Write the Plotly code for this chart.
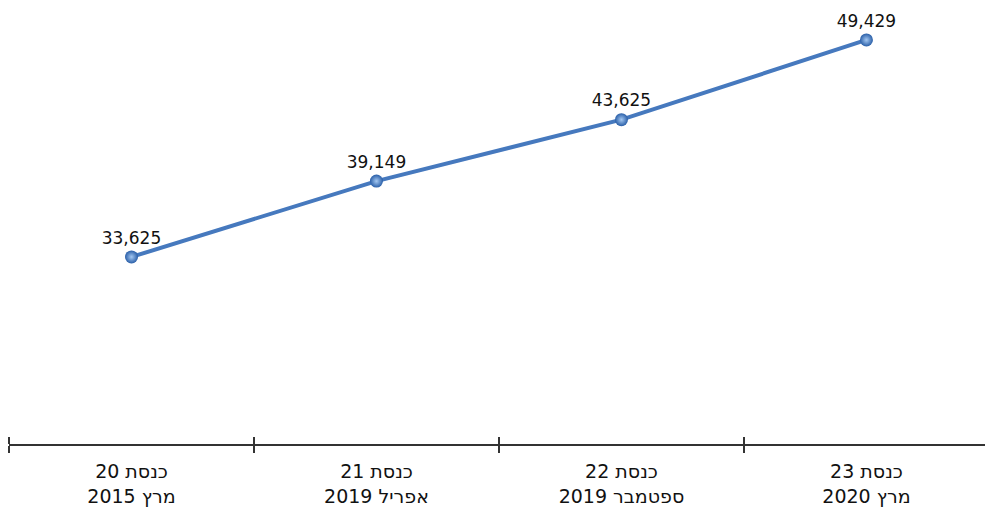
import plotly.graph_objects as go

RLM = "\u200f"
knesset = ["כנסת 20", "כנסת 21", "כנסת 22", "כנסת 23"]
dates = ["מרץ 2015", "אפריל 2019", "ספטמבר 2019", "מרץ 2020"]
values = [33625, 39149, 43625, 49429]

categories = [RLM + k + "<br>" + RLM + d for k, d in zip(knesset, dates)]
labels = [f"{v:,}" for v in values]

FONT = "DejaVu Sans, sans-serif"
XRANGE = [-0.5, 3.484]

fig = go.Figure()
fig.add_trace(go.Scatter(
    x=categories, y=values, mode="lines+markers+text",
    text=labels, textposition="top center",
    textfont=dict(family=FONT, size=17, color="#111111"),
    line=dict(color="#4679be", width=4),
    marker=dict(size=13, color="#2a5fa8",
                gradient=dict(type="radial", color="#a4c8f2"),
                line=dict(width=0)),
    hoverinfo="skip", showlegend=False, cliponaxis=False,
))
fig.add_trace(go.Scatter(
    x=categories, y=values, mode="lines", xaxis="x2",
    line=dict(width=0), hoverinfo="skip", showlegend=False,
))

fig.update_layout(
    width=985, height=510,
    margin=dict(l=9, r=0, t=0, b=66, autoexpand=False),
    paper_bgcolor="white", plot_bgcolor="white",
    font=dict(family=FONT, color="#111111"),
    xaxis=dict(
        type="category", range=XRANGE, automargin=False,
        showline=True, linecolor="#333333", linewidth=2,
        ticks="outside", tickson="boundaries", ticklen=7,
        tickcolor="#333333", tickwidth=2,
        showgrid=False, zeroline=False,
        tickfont=dict(family=FONT, size=19, color="#111111"),
        ticklabelstandoff=9,
    ),
    xaxis2=dict(
        type="category", range=XRANGE, overlaying="x", side="top",
        anchor="free", position=0, automargin=False,
        showline=False, ticks="outside", tickson="boundaries", ticklen=7,
        tickcolor="#333333", tickwidth=2, showticklabels=False,
        showgrid=False, zeroline=False,
    ),
    yaxis=dict(visible=False, range=[20000, 52340]),
)

fig.write_html("out.html", config={"displayModeBar": False},
               post_script="document.body.style.margin='0px';")
